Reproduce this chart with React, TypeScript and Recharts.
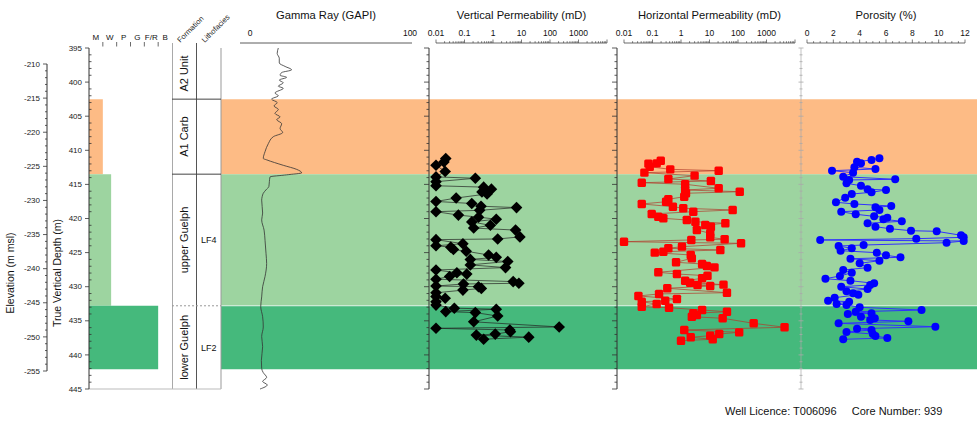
import React from "react";
import {
  ComposedChart, LineChart, ScatterChart, Line, Scatter,
  XAxis, YAxis, ReferenceArea, ReferenceLine,
} from "recharts";

// page frame: 395 m TVD sits at y=48, 445 m at y=389
const H = 425;
const Y_TOP = 48;
const Y_BOT = 389;
const D_TOP = 395;
const D_BOT = 445;
const PX_M = (Y_BOT - Y_TOP) / (D_BOT - D_TOP);
const depthAt = (y: number) => D_TOP + (y - Y_TOP) / PX_M;
const RULER_Y = 43;
const PAD = 20; // side room so ruler labels are not clipped
const FONT = "'Liberation Sans', Arial, sans-serif";

// facies intervals (m TVD), texture on a 0..6 scale (M .. B)
const FACIES_TOP = [402.5, 413.5, 432.8];
const FACIES_BASE = [413.5, 432.8, 442.1];
const FACIES_TEXTURE = [1.0, 1.6, 5.0];
const FACIES_COLOR = ["#fdbb85", "#9dd4a0", "#45b97c"];
const TEXTURE_LABELS = ["M", "W", "P", "G", "F/R", "B"];

const FORMATION_NAMES = ["A2 Unit", "A1 Carb", "upper Guelph", "lower Guelph"];
const FORMATION_TOP = [395, 402.5, 413.5, 432.8];
const FORMATION_BASE = [402.5, 413.5, 432.8, 445];
const LITHOFACIES_NAMES = ["LF4", "LF2"];
const LITHOFACIES_TOP = [413.5, 432.8];
const LITHOFACIES_BASE = [432.8, 445];
const COLUMN_HEADERS = ["Formation", "Lithofacies"];

// gamma ray log
const GR_DEPTH = [
  395.0, 395.8, 396.5, 397.2, 397.7, 398.2, 398.6, 399.0, 399.3, 399.7, 400.1, 400.6, 400.9,
  401.6, 402.0, 402.5, 403.0, 403.5, 404.0, 404.6, 405.1, 405.5, 406.1, 406.8, 407.4, 408.0,
  409.0, 410.2, 411.2, 411.4, 412.2, 412.8, 413.3, 413.6, 413.9, 414.6, 415.3, 415.8, 416.3,
  416.8, 417.3, 419.2, 420.2, 421.7, 423.2, 425.1, 426.6, 428.5, 430.0, 431.5, 432.9, 434.4,
  435.9, 437.3, 438.8, 440.8, 442.0, 442.6, 443.3, 443.9, 444.4, 445.0,
];
const GR_VALUE = [
  17.7, 17.0, 18.3, 18.3, 21.9, 26.0, 19.8, 18.8, 22.9, 18.3, 20.8, 17.7, 20.8,
  15.6, 17.7, 13.5, 17.0, 15.0, 17.7, 15.6, 18.8, 16.7, 19.8, 18.8, 20.4, 14.6,
  11.5, 9.4, 8.3, 10.4, 20.8, 29.2, 32.3, 22.9, 12.5, 12.1, 11.8, 10.0, 8.3,
  7.6, 7.3, 7.9, 7.3, 8.8, 9.4, 10.0, 10.4, 9.4, 7.9, 7.3, 6.7, 7.9,
  8.3, 7.3, 7.9, 7.1, 7.3, 8.3, 10.4, 7.9, 10.8, 6.3,
];

// core plugs: vertical permeability (mD)
const KV_DEPTH = [
  411.2, 411.7, 412.2, 413.1, 413.9, 414.1, 414.6, 415.2, 415.4, 415.7, 416.1, 416.4, 417.0,
  417.5, 417.8, 418.2, 418.4, 418.8, 419.0, 419.5, 419.8, 420.1, 420.5, 421.0, 421.4, 421.7,
  422.7, 423.0, 423.1, 423.7, 424.0, 424.2, 424.55, 424.8, 425.35, 425.7, 426.0, 426.3, 426.8,
  427.2, 427.55, 427.95, 428.15, 428.5, 428.9, 429.25, 429.5, 429.6, 429.9, 430.0, 430.25,
  430.5, 430.9, 431.45, 431.7, 432.2, 432.7, 433.15, 433.3, 433.65, 433.8, 434.3, 435.15,
  435.9, 436.1, 436.35, 436.6, 436.95, 437.1, 437.4, 437.7,
];
const KV_VALUE = [
  0.022, 0.019, 0.01, 0.021, 0.01, 0.24, 0.01, 0.01, 0.47, 0.88, 0.41, 0.62, 0.051,
  0.01, 0.18, 0.38, 6.7, 0.34, 0.01, 0.061, 0.31, 1.3, 0.18, 0.81, 0.21, 6.2,
  8.8, 1.46, 0.01, 0.088, 0.01, 0.033, 0.041, 0.115, 0.7, 1.3, 0.16, 3.3, 0.16,
  2.75, 0.01, 0.054, 0.12, 0.03, 0.01, 5.1, 8.1, 0.092, 0.01, 0.31, 0.39,
  0.088, 0.01, 0.01, 0.021, 0.01, 0.01, 0.044, 1.3, 0.022, 0.24, 1.46, 0.21,
  210, 0.01, 3.9, 4.1, 1.2, 0.26, 18, 0.47,
];

// core plugs: horizontal permeability (mD)
const KH_DEPTH = [
  411.54, 411.92, 411.95, 412.41, 412.79, 412.99, 413.28, 413.72, 414.21, 414.5, 414.75, 414.98,
  415.57, 415.82, 416.07, 416.3, 416.8, 417.18, 417.54, 417.87, 418.27, 418.5, 418.75, 419.0,
  419.34, 419.74, 419.97, 420.22, 420.47, 420.7, 420.95, 421.2, 421.69, 422.17, 422.76, 423.05,
  423.15, 423.4, 423.64, 424.13, 424.37, 424.62, 424.87, 425.01, 425.35, 425.84, 426.42, 426.67,
  426.96, 427.16, 427.89, 428.14, 428.39, 428.77, 429.12, 429.41, 429.7, 429.75, 429.9, 430.23,
  430.88, 431.06, 431.36, 431.8, 432.05, 432.2, 432.54, 432.93, 433.08, 433.42, 433.67, 433.9,
  434.15, 434.4, 434.63, 435.37, 435.95, 436.35, 436.69, 436.94, 437.18, 437.42, 437.71, 437.92,
];
const KH_VALUE = [
  0.195, 0.14, 0.072, 0.08, 0.42, 21, 0.052, 3.0, 0.36, 11.2, 0.042, 1.4,
  21, 1.4, 115, 1.5, 1.3, 0.36, 0.3, 0.042, 0.52, 1.2, 65, 2.7,
  0.094, 0.16, 0.24, 1.6, 3.2, 36, 7.1, 11.2, 3.6, 10.6, 10.6, 34,
  2.3, 0.01, 128, 1.08, 0.36, 24, 0.24, 0.12, 2.2, 2.4, 0.67, 5.5,
  8.1, 15, 0.16, 0.72, 8.5, 5.5, 1.4, 2.1, 31, 3.8, 10.6, 0.33,
  41, 0.17, 0.032, 0.72, 0.28, 0.042, 0.14, 0.042, 0.38, 5.5, 41, 2.7,
  3.6, 2.4, 29, 355, 4300, 1.3, 110, 22, 10.6, 2.2, 13, 1.0,
];

// core plugs: porosity (%)
const PHI_DEPTH = [
  411.17, 411.42, 411.67, 411.91, 412.49, 412.74, 412.99, 413.28, 413.87, 414.25, 414.35, 414.84,
  415.19, 415.72, 415.82, 416.16, 416.41, 416.95, 417.62, 417.87, 418.17, 418.36, 418.75, 419.0,
  419.38, 419.68, 419.88, 420.12, 420.41, 420.7, 421.2, 421.5, 421.79, 421.88, 422.46, 422.76,
  422.96, 423.15, 423.3, 423.55, 423.89, 424.03, 424.37, 424.72, 425.01, 425.4, 425.69, 425.9,
  426.19, 426.57, 427.21, 427.55, 427.95, 428.43, 428.83, 429.12, 429.5, 429.75, 430.0, 430.34,
  430.67, 430.97, 431.17, 431.61, 432.05, 432.2, 432.54, 432.68, 433.02, 433.42, 433.67, 433.9,
  434.0, 434.4, 434.63, 434.88, 435.07, 435.37, 435.87, 436.16, 436.35, 436.64, 436.94, 437.23,
  437.52, 437.71,
];
const PHI_VALUE = [
  5.5, 4.9, 3.8, 4.1, 3.6, 5.2, 1.9, 3.5, 2.75, 6.7, 3.2, 3.0,
  4.1, 4.6, 6.0, 4.9, 3.4, 2.9, 2.2, 3.6, 6.4, 5.2, 5.5, 2.6,
  3.7, 5.1, 6.1, 5.8, 7.2, 4.6, 5.2, 6.3, 7.9, 9.85, 11.7, 11.9,
  8.3, 1.0, 11.9, 10.6, 4.3, 2.4, 3.4, 2.55, 5.3, 6.0, 7.1, 3.3,
  5.5, 4.0, 4.6, 2.75, 3.4, 2.5, 1.4, 3.3, 5.1, 4.8, 2.6, 4.6,
  3.0, 3.5, 3.9, 2.1, 1.6, 3.2, 2.25, 3.0, 4.0, 8.7, 3.7, 4.9,
  3.1, 4.1, 5.15, 4.8, 7.7, 2.4, 9.75, 3.8, 4.9, 3.0, 5.0, 5.2,
  6.1, 2.75,
];

// axis tick lists
const TVD_TICKS = Array.from({ length: 51 }, (_, i) => 395 + i);
const ELEV_TICKS = Array.from({ length: 46 }, (_, i) => -210 - i);
const LOG_DECADES = [0.01, 0.1, 1, 10, 100, 1000];
const LOG_TICKS: number[] = [];
LOG_DECADES.forEach((d) => { for (let m = 1; m <= 9; m++) LOG_TICKS.push(m * d); });
LOG_TICKS.push(10000);
const PHI_TICKS = Array.from({ length: 25 }, (_, i) => i * 0.5);
const TEXTURE_TICKS = [0.5, 1, 1.5, 2, 2.5, 3, 3.5, 4, 4.5, 5, 5.5];

// ---- tick renderers ----
type DepthTickOpts = { major: number; minor: number; stroke: string; minorRight?: boolean; both?: boolean; label?: boolean };
const depthTick = (o: DepthTickOpts) => (p: any) => {
  const v = Number(p.payload.value);
  const isMajor = Math.round(v) % 5 === 0;
  const len = isMajor ? o.major : o.minor;
  let x1 = p.x - len;
  let x2 = p.x;
  if (o.both) x2 = p.x + len;
  else if (!isMajor && o.minorRight) { x1 = p.x; x2 = p.x + len; }
  return (
    <g>
      <line x1={x1} x2={x2} y1={p.y} y2={p.y} stroke={o.stroke} strokeWidth={0.8} />
      {o.label && isMajor && (
        <text x={p.x - o.major - 3} y={p.y} dy="0.33em" textAnchor="end" fontSize={8} fill="#222">{v}</text>
      )}
    </g>
  );
};

const rulerTick = (isMajor: (v: number) => boolean, label: (v: number) => string | null, marks = true) => (p: any) => {
  const v = Number(p.payload.value);
  const txt = label(v);
  return (
    <g>
      {marks && <line x1={p.x} x2={p.x} y1={p.y} y2={p.y - (isMajor(v) ? 3.5 : 1.8)} stroke="#444" strokeWidth={0.7} />}
      {txt !== null && <text x={p.x} y={p.y - 7} textAnchor="middle" fontSize={8.5} fill="#111">{txt}</text>}
    </g>
  );
};

const isDecade = (v: number) => Math.abs(Math.log10(v) - Math.round(Math.log10(v))) < 1e-6;
const decadeLabel = (v: number) => {
  const d = LOG_DECADES.find((x) => Math.abs(x - v) < x * 1e-6);
  return d === undefined ? null : String(d);
};
const logTick = rulerTick(isDecade, decadeLabel);
const phiTick = rulerTick((v) => v % 2 === 0, (v) => (v % 2 === 0 ? String(v) : null));
const grTick = rulerTick(() => false, (v) => String(v), false);

const textureTick = (p: any) => {
  const v = Number(p.payload.value);
  if (Number.isInteger(v)) {
    return <line x1={p.x} x2={p.x} y1={p.y - 6} y2={p.y - 1.5} stroke="#444" strokeWidth={0.8} />;
  }
  return <text x={p.x} y={p.y - 8} textAnchor="middle" fontSize={8} fill="#111">{TEXTURE_LABELS[Math.floor(v)]}</text>;
};

const headerTick = (p: any) => {
  const v = Number(p.payload.value);
  const x = p.x - 4;
  const y = p.y - 5;
  return (
    <text x={x} y={y} transform={`rotate(-45, ${x}, ${y})`} fontSize={7.5} fill="#222">{COLUMN_HEADERS[Math.floor(v)]}</text>
  );
};

const trackTitle = (text: string, cx: number) => () => (
  <text x={cx} y={19} textAnchor="middle" fontSize={11.2} fill="#111">{text}</text>
);

const axisTitle = (text: string, x: number, y: number) => () => (
  <text x={x} y={y} transform={`rotate(-90, ${x}, ${y})`} textAnchor="middle" fontSize={10.5} fill="#111">{text}</text>
);

const noShape = () => <g />;
const diamond = (p: any) => (
  <polygon points={`${p.cx},${p.cy - 5.8} ${p.cx + 5.8},${p.cy} ${p.cx},${p.cy + 5.8} ${p.cx - 5.8},${p.cy}`} fill="#000" />
);
const square = (p: any) => <rect x={p.cx - 4.2} y={p.cy - 4.2} width={8.4} height={8.4} rx={1.5} fill="#ff0000" />;
const circle = (p: any) => <circle cx={p.cx} cy={p.cy} r={4} fill="#0000ff" />;

function At({ left, children }: { left: number; children: React.ReactNode }) {
  return <div style={{ position: "absolute", left, top: 0 }}>{children}</div>;
}

// invisible point so the chart builds its scales
const anchor = (x: number, y: number) => (
  <Scatter data={[{ x, y }]} shape={noShape} isAnimationActive={false} />
);

// vertical track border with depth ticks
function DepthFrame({ x, stroke, both }: { x: number; stroke: string; both?: boolean }) {
  return (
    <At left={x - 30}>
      <ComposedChart width={40} height={H} margin={{ top: Y_TOP, right: 10, bottom: H - Y_BOT, left: 0 }}>
        <XAxis type="number" dataKey="x" domain={[0, 1]} hide />
        <YAxis type="number" dataKey="y" width={30} reversed domain={[D_TOP, D_BOT]} ticks={TVD_TICKS} interval={0}
          tickLine={false} tickSize={0} tickMargin={0} axisLine={{ stroke, strokeWidth: both ? 0.7 : 1 }}
          tick={depthTick({ major: both ? 2.5 : 5, minor: both ? 1.5 : 2.5, stroke, both })} />
        {anchor(0.5, 420)}
      </ComposedChart>
    </At>
  );
}

type TrackProps = {
  left: number; width: number; title: string; depth: number[]; values: number[];
  log?: boolean; domain: [number, number]; ticks: number[]; tick: any;
  shape: any; lineColor: string; lineWidth: number;
};
function SampleTrack(t: TrackProps) {
  const data = t.depth.map((d, i) => ({ depth: d, v: t.values[i] }));
  return (
    <At left={t.left - PAD}>
      <ScatterChart width={t.width + 2 * PAD} height={H}
        margin={{ top: RULER_Y - 36, right: PAD, bottom: H - Y_BOT, left: PAD }}>
        <XAxis type="number" dataKey="v" orientation="top" height={36} scale={t.log ? "log" : "linear"}
          domain={t.domain} ticks={t.ticks} interval={0} tickLine={false} tickSize={0} tickMargin={0}
          tick={t.tick} axisLine={{ stroke: "#444", strokeWidth: 0.8 }} label={trackTitle(t.title, PAD + t.width / 2)} />
        <YAxis type="number" dataKey="depth" hide reversed domain={[depthAt(RULER_Y), D_BOT]} />
        <Scatter data={data} shape={t.shape} line={{ stroke: t.lineColor, strokeWidth: t.lineWidth }}
          isAnimationActive={false} />
      </ScatterChart>
    </At>
  );
}

export default function App() {
  const grData = GR_DEPTH.map((d, i) => ({ depth: d, gr: GR_VALUE[i] }));
  return (
    <div style={{ position: "relative", width: 977, height: H, fontFamily: FONT, background: "#fff", overflow: "hidden" }}>
      <style>{"body{margin:0}"}</style>

      {/* facies bands behind the log tracks */}
      <At left={221}>
        <ComposedChart width={756} height={H} margin={{ top: Y_TOP, right: 0, bottom: H - Y_BOT, left: 0 }}>
          <XAxis type="number" dataKey="x" domain={[0, 1]} hide />
          <YAxis type="number" dataKey="y" hide reversed domain={[D_TOP, D_BOT]} />
          {FACIES_TOP.map((top, i) => (
            <ReferenceArea key={i} x1={0} x2={1} y1={top} y2={FACIES_BASE[i]} fill={FACIES_COLOR[i]} fillOpacity={1} />
          ))}
          <ReferenceLine y={FACIES_TOP[2]} stroke="#fff" strokeOpacity={0.7} strokeWidth={1} />
          {anchor(0.5, 420)}
        </ComposedChart>
      </At>

      {/* elevation axis */}
      <At left={0}>
        <ComposedChart width={50} height={H} margin={{ top: 64, right: 0, bottom: 54, left: 0 }}>
          <XAxis type="number" dataKey="x" domain={[0, 1]} hide />
          <YAxis type="number" dataKey="y" width={47} domain={[-255, -210]} ticks={ELEV_TICKS} interval={0}
            tickLine={false} tickSize={0} tickMargin={0} axisLine={{ stroke: "#333" }}
            tick={depthTick({ major: 4, minor: 2, stroke: "#333", label: true })}
            label={axisTitle("Elevation (m msl)", 14, 273)} />
          {anchor(0.5, -230)}
        </ComposedChart>
      </At>

      {/* TVD axis + texture column */}
      <At left={0}>
        <ComposedChart width={172} height={H} margin={{ top: Y_TOP - 20, right: 0, bottom: H - Y_BOT, left: 0 }}>
          <XAxis type="number" dataKey="x" orientation="top" height={20} domain={[0, 6]} ticks={TEXTURE_TICKS} interval={0}
            axisLine={false} tickLine={false} tickSize={0} tickMargin={0} tick={textureTick} />
          <YAxis type="number" dataKey="y" width={89} reversed domain={[D_TOP, D_BOT]} ticks={TVD_TICKS} interval={0}
            tickLine={false} tickSize={0} tickMargin={0} axisLine={{ stroke: "#333" }}
            tick={depthTick({ major: 4, minor: 2.5, stroke: "#333", minorRight: true, label: true })}
            label={axisTitle("True Vertical Depth (m)", 61, 273)} />
          {FACIES_TOP.map((top, i) => (
            <ReferenceArea key={i} x1={0} x2={FACIES_TEXTURE[i]} y1={top} y2={FACIES_BASE[i]} fill={FACIES_COLOR[i]} fillOpacity={1} />
          ))}
          <ReferenceLine y={D_BOT} stroke="#bbb" strokeWidth={1.2} />
          {anchor(3, 420)}
        </ComposedChart>
      </At>

      {/* formation / lithofacies columns */}
      <At left={172}>
        <ComposedChart width={90} height={H} margin={{ top: Y_TOP - 20, right: 41, bottom: H - Y_BOT, left: 0 }}>
          <XAxis type="number" dataKey="x" orientation="top" height={20} domain={[0, 2]} ticks={[0.5, 1.5]} interval={0}
            axisLine={false} tickLine={false} tickSize={0} tickMargin={0} tick={headerTick} />
          <YAxis type="number" dataKey="y" hide reversed domain={[D_TOP, D_BOT]} />
          {FORMATION_NAMES.map((name, i) => (
            <ReferenceArea key={name} x1={0} x2={1} y1={FORMATION_TOP[i]} y2={FORMATION_BASE[i]} fillOpacity={0}
              label={{ value: name, angle: -90, position: "center", fontSize: 11, fill: "#111" }} />
          ))}
          {LITHOFACIES_NAMES.map((name, i) => (
            <ReferenceArea key={name} x1={1} x2={2} y1={LITHOFACIES_TOP[i]} y2={LITHOFACIES_BASE[i]} fillOpacity={0}
              label={{ value: name, position: "center", fontSize: 9, fill: "#111" }} />
          ))}
          <ReferenceLine segment={[{ x: 0, y: depthAt(RULER_Y) }, { x: 0, y: D_BOT }]} ifOverflow="visible" stroke="#555" />
          <ReferenceLine segment={[{ x: 1, y: depthAt(RULER_Y) }, { x: 1, y: D_BOT }]} ifOverflow="visible" stroke="#555" />
          <ReferenceLine x={2} stroke="#999" />
          <ReferenceLine segment={[{ x: 0, y: 402.5 }, { x: 2, y: 402.5 }]} stroke="#444" />
          <ReferenceLine segment={[{ x: 0, y: 413.5 }, { x: 2, y: 413.5 }]} stroke="#444" />
          <ReferenceLine segment={[{ x: 0, y: 432.8 }, { x: 2, y: 432.8 }]} stroke="#999" strokeDasharray="2 2" />
          <ReferenceLine y={D_BOT} stroke="#bbb" strokeWidth={1.2} />
          {anchor(1, 420)}
        </ComposedChart>
      </At>

      {/* track borders */}
      <DepthFrame x={429} stroke="#333" />
      <DepthFrame x={617} stroke="#333" />
      <DepthFrame x={801} stroke="#aaa" both />

      {/* gamma ray (vertical layout: depth grows downward by default) */}
      <At left={240 - PAD}>
        <LineChart layout="vertical" data={grData} width={172 + 2 * PAD} height={H}
          margin={{ top: RULER_Y - 36, right: PAD, bottom: H - Y_BOT, left: PAD }}>
          <XAxis type="number" orientation="top" height={36} domain={[0, 100]} padding={{ left: 10, right: 2 }}
            ticks={[0, 100]} interval={0} tickLine={false} tickSize={0} tickMargin={0} tick={grTick}
            axisLine={{ stroke: "#333", strokeWidth: 0.8 }} label={trackTitle("Gamma Ray (GAPI)", PAD + 86)} />
          <YAxis type="number" dataKey="depth" hide domain={[depthAt(RULER_Y), D_BOT]} />
          <Line dataKey="gr" type="monotone" stroke="#333" strokeWidth={0.8} dot={false} isAnimationActive={false} />
        </LineChart>
      </At>

      <SampleTrack left={436} width={171} title="Vertical Permeability (mD)" depth={KV_DEPTH} values={KV_VALUE}
        log domain={[0.01, 10000]} ticks={LOG_TICKS} tick={logTick} shape={diamond} lineColor="#222" lineWidth={0.7} />
      <SampleTrack left={624} width={171} title="Horizontal Permeability (mD)" depth={KH_DEPTH} values={KH_VALUE}
        log domain={[0.01, 10000]} ticks={LOG_TICKS} tick={logTick} shape={square} lineColor="#b23a2a" lineWidth={0.7} />
      <SampleTrack left={807} width={158} title="Porosity (%)" depth={PHI_DEPTH} values={PHI_VALUE}
        domain={[0, 12]} ticks={PHI_TICKS} tick={phiTick} shape={circle} lineColor="#3030ff" lineWidth={1} />

      <div style={{ position: "absolute", left: 725, top: 406, fontSize: 11, lineHeight: "11px", color: "#111", whiteSpace: "pre" }}>
        {"Well Licence: T006096     Core Number: 939"}
      </div>
    </div>
  );
}
